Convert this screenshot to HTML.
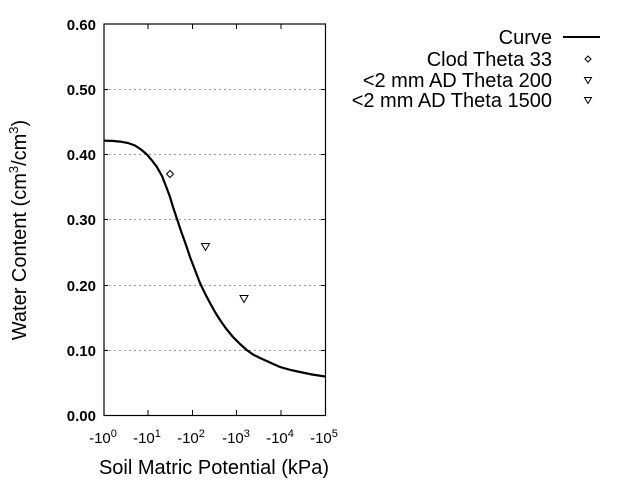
<!DOCTYPE html>
<html><head><style>body{margin:0;background:#fff}svg{display:block}</style></head><body>
<svg width="640" height="480" xmlns="http://www.w3.org/2000/svg" font-family="Liberation Sans, sans-serif">
<rect width="640" height="480" fill="#fff"/>
<g stroke="#999" stroke-dasharray="2,3" stroke-width="1">
<line x1="104" y1="89.5" x2="325" y2="89.5"/>
<line x1="104" y1="154.5" x2="325" y2="154.5"/>
<line x1="104" y1="219.5" x2="325" y2="219.5"/>
<line x1="104" y1="285.5" x2="325" y2="285.5"/>
<line x1="104" y1="350.5" x2="325" y2="350.5"/>
</g>
<rect x="104" y="24" width="221.5" height="391.5" fill="none" stroke="#000" stroke-width="1.2"/>
<g stroke="#000" stroke-width="1">
<line x1="148" y1="24" x2="148" y2="29"/><line x1="192.5" y1="24" x2="192.5" y2="29"/><line x1="236.5" y1="24" x2="236.5" y2="29"/><line x1="281" y1="24" x2="281" y2="29"/>
<line x1="148" y1="415" x2="148" y2="410"/><line x1="192.5" y1="415" x2="192.5" y2="410"/><line x1="236.5" y1="415" x2="236.5" y2="410"/><line x1="281" y1="415" x2="281" y2="410"/>
<line x1="104" y1="89.5" x2="108" y2="89.5"/><line x1="104" y1="154.5" x2="108" y2="154.5"/><line x1="104" y1="219.5" x2="108" y2="219.5"/><line x1="104" y1="285.5" x2="108" y2="285.5"/><line x1="104" y1="350.5" x2="108" y2="350.5"/>
<line x1="325" y1="89.5" x2="321" y2="89.5"/><line x1="325" y1="154.5" x2="321" y2="154.5"/><line x1="325" y1="219.5" x2="321" y2="219.5"/><line x1="325" y1="285.5" x2="321" y2="285.5"/><line x1="325" y1="350.5" x2="321" y2="350.5"/>
</g>
<polyline fill="none" stroke="#000" stroke-width="2.2" stroke-linejoin="round" points="104,140.7 112,140.9 120,141.6 128,143 135,145.5 141,149.5 146.7,154.3 152,160.5 156.7,166.7 162,176 166.7,188 170,197 173,207 177,219 181.7,233 186,245 190,257 195,270 200,283 205,293.5 210,303 215,312 220,320 226,328.5 233,337 240,344 246.7,350 253,354.5 260,358 270,362.5 280,367 290,369.8 300,372 312,374.5 325,376.5"/>
<path d="M170,170.5 L173.5,174 L170,177.5 L166.5,174Z" fill="none" stroke="#000"/>
<path d="M201.5,243.5 L209.5,243.5 L205.5,250.5Z" fill="none" stroke="#000"/>
<path d="M240,295.5 L248,295.5 L244,302.5Z" fill="none" stroke="#000"/>
<g font-size="15" font-weight="bold" text-anchor="end">
<text x="96" y="30">0.60</text><text x="96" y="95">0.50</text><text x="96" y="160">0.40</text><text x="96" y="225">0.30</text><text x="96" y="291">0.20</text><text x="96" y="356">0.10</text><text x="96" y="421">0.00</text>
</g>
<g font-size="15" text-anchor="middle">
<text x="103" y="443">-10<tspan font-size="11" dy="-6">0</tspan></text>
<text x="147" y="443">-10<tspan font-size="11" dy="-6">1</tspan></text>
<text x="191" y="443">-10<tspan font-size="11" dy="-6">2</tspan></text>
<text x="236" y="443">-10<tspan font-size="11" dy="-6">3</tspan></text>
<text x="280" y="443">-10<tspan font-size="11" dy="-6">4</tspan></text>
<text x="324" y="443">-10<tspan font-size="11" dy="-6">5</tspan></text>
</g>
<text x="214" y="474" font-size="20" text-anchor="middle">Soil Matric Potential (kPa)</text>
<text transform="translate(26,230) rotate(-90)" font-size="20" text-anchor="middle">Water Content (cm<tspan font-size="13" dy="-8">3</tspan><tspan dy="8">/cm</tspan><tspan font-size="13" dy="-8">3</tspan><tspan dy="8">)</tspan></text>
<g font-size="20" text-anchor="end">
<text x="552" y="44">Curve</text>
<text x="552" y="66">Clod Theta 33</text>
<text x="552" y="87">&lt;2 mm AD Theta 200</text>
<text x="552" y="107">&lt;2 mm AD Theta 1500</text>
</g>
<line x1="563" y1="37" x2="600" y2="37" stroke="#000" stroke-width="2"/>
<path d="M588,56 L591,59 L588,62 L585,59Z" fill="none" stroke="#000"/>
<path d="M584.5,77.5 L591.5,77.5 L588,83.5Z" fill="none" stroke="#000"/>
<path d="M584.5,97.5 L591.5,97.5 L588,103.5Z" fill="none" stroke="#000"/>
</svg>
</body></html>
